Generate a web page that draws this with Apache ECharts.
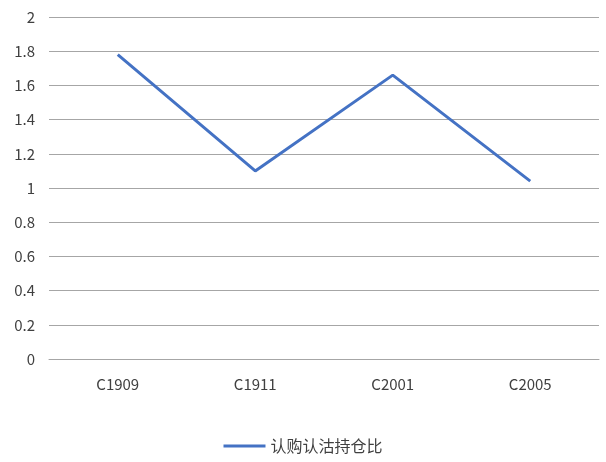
<!DOCTYPE html>
<html><head><meta charset="utf-8">
<script src="https://cdn.jsdelivr.net/npm/echarts@6/dist/echarts.min.js"></script>
<style>html,body{margin:0;padding:0;background:#fff}#c{width:606px;height:462px}</style>
</head><body><div id="c"></div>
<script>
const categories = ['C1909','C1911','C2001','C2005'];
const seriesName = '认购认沽持仓比';
const values = [1.78, 1.1, 1.66, 1.04];
const font = '"Liberation Sans Narrow","Noto Sans CJK SC",sans-serif';
const chart = echarts.init(document.getElementById('c'));
chart.setOption({
  animation:false,
  grid:{left:49,right:7,top:17,bottom:103},
  legend:{bottom:3,left:'center',itemWidth:42,itemHeight:3,icon:'rect',
    textStyle:{fontFamily:font,fontSize:16,color:'#404040'},itemGap:4,data:[seriesName]},
  xAxis:{type:'category',data:categories,boundaryGap:true,
    axisLine:{show:true,lineStyle:{color:'#a6a6a6',width:1}},axisTick:{show:false},
    axisLabel:{fontFamily:font,fontSize:15,color:'#404040',margin:18}},
  yAxis:{type:'value',min:0,max:2,interval:0.2,
    axisLine:{show:false},axisTick:{show:false},
    axisLabel:{fontFamily:font,fontSize:15,color:'#404040',margin:14,formatter:v=>String(+v.toFixed(1))},
    splitLine:{lineStyle:{color:'#a6a6a6',width:1}}},
  series:[{name:seriesName,type:'line',data:values,symbol:'none',
    lineStyle:{color:'#4472C4',width:3},itemStyle:{color:'#4472C4'}}]
});
</script></body></html>
